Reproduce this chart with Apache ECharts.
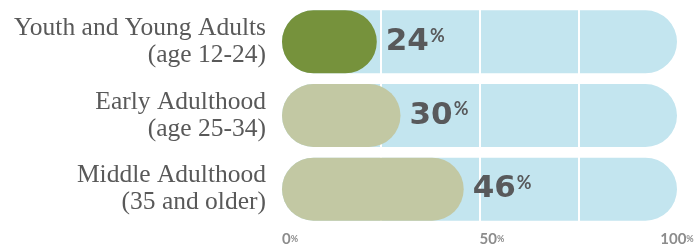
<!DOCTYPE html>
<html>
<head>
<meta charset="utf-8">
<script src="https://cdn.jsdelivr.net/npm/echarts@6/dist/echarts.min.js"></script>
<style>
  html, body { margin: 0; padding: 0; background: #fff; }
  #chart { width: 697px; height: 247px; }
</style>
</head>
<body>
<div id="chart"></div>
<script>
// data
const categories = [
  'Youth and Young Adults\n(age 12-24)',
  'Early Adulthood\n(age 25-34)',
  'Middle Adulthood\n(35 and older)'
]
const shares = [24, 30, 46]
const barColors = ['#76923c', '#c2c8a3', '#c2c8a3']
const trackValues = [100, 100, 100]
const guideLines = [25, 50, 75]

const chart = echarts.init(document.getElementById('chart'))

const option = {
  animation: false,
  grid: { left: 282, right: 20, top: 5, height: 222 },
  xAxis: {
    type: 'value',
    min: 0,
    max: 100,
    interval: 50,
    splitLine: { show: false },
    axisLine: { show: false },
    axisTick: { show: false },
    axisLabel: {
      margin: 6,
      align: 'left',
      alignMaxLabel: 'center',
      formatter: v => '{n|' + v + '}{p|%}',
      rich: {
        n: { fontFamily: 'Lato', fontWeight: 'bold', fontSize: 15, color: '#8c8c8c' },
        p: { fontFamily: 'Lato', fontWeight: 'bold', fontSize: 9, color: '#8c8c8c' }
      }
    }
  },
  yAxis: {
    type: 'category',
    inverse: true,
    data: categories,
    axisLine: { show: false },
    axisTick: { show: false },
    axisLabel: {
      margin: 16,
      fontFamily: 'Liberation Serif',
      fontSize: 25.5,
      lineHeight: 27,
      color: '#595959',
      align: 'right'
    }
  },
  series: [
    {
      type: 'bar',
      data: trackValues,
      barWidth: 63,
      silent: true,
      z: 2,
      itemStyle: { color: '#c3e5ef', borderRadius: 31.5 },
      markLine: {
        silent: true,
        symbol: 'none',
        z: 3,
        label: { show: false },
        lineStyle: { color: '#ffffff', width: 2, type: 'solid' },
        data: guideLines.map(v => ({ xAxis: v }))
      }
    },
    {
      type: 'bar',
      data: shares.map((v, i) => ({ value: v, itemStyle: { color: barColors[i] } })),
      barWidth: 63,
      barGap: '-100%',
      z: 6,
      itemStyle: { borderRadius: 31.5 },
      label: {
        show: true,
        position: 'right',
        distance: 9,
        formatter: p => '{n|' + p.value + '}{p|%}',
        rich: {
          n: { fontFamily: 'DejaVu Sans', fontWeight: 'bold', fontSize: 31, color: '#58595b' },
          p: { fontFamily: 'Lato', fontWeight: 'bold', fontSize: 18, color: '#58595b', padding: [0, 0, 12, 1] }
        }
      }
    }
  ]
}

chart.setOption(option)
</script>
</body>
</html>
